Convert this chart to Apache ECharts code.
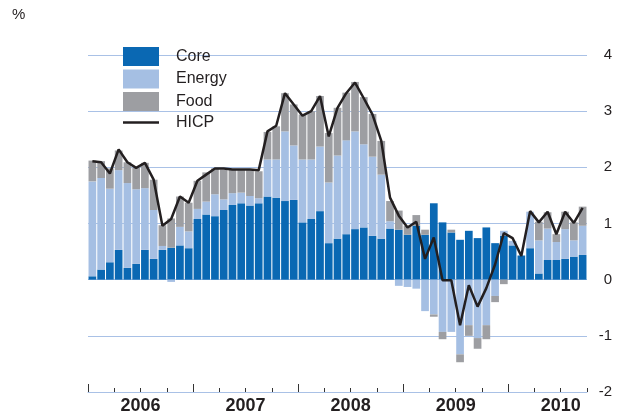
<!DOCTYPE html>
<html><head><meta charset="utf-8">
<script src="https://cdn.jsdelivr.net/npm/echarts@6/dist/echarts.min.js"></script>
<style>html,body{margin:0;padding:0;background:#fff}#c{width:623px;height:415px}</style>
</head><body><div id="c"></div>
<script>
const categories = [
'2006-01','2006-02','2006-03','2006-04','2006-05','2006-06','2006-07','2006-08','2006-09','2006-10','2006-11','2006-12',
'2007-01','2007-02','2007-03','2007-04','2007-05','2007-06','2007-07','2007-08','2007-09','2007-10','2007-11','2007-12',
'2008-01','2008-02','2008-03','2008-04','2008-05','2008-06','2008-07','2008-08','2008-09','2008-10','2008-11','2008-12',
'2009-01','2009-02','2009-03','2009-04','2009-05','2009-06','2009-07','2009-08','2009-09','2009-10','2009-11','2009-12',
'2010-01','2010-02','2010-03','2010-04','2010-05','2010-06','2010-07','2010-08','2010-09'];
const yearLabels = ['2006','2007','2008','2009','2010'];
const core = [0.06,0.18,0.31,0.53,0.21,0.28,0.53,0.37,0.53,0.57,0.61,0.56,
1.08,1.16,1.13,1.24,1.33,1.36,1.32,1.36,1.48,1.46,1.40,1.42,
1.02,1.08,1.22,0.65,0.73,0.81,0.90,0.93,0.78,0.73,0.91,0.89,
0.80,0.96,0.80,1.36,1.02,0.84,0.71,0.87,0.74,0.93,0.65,0.78,
0.61,0.43,0.56,0.11,0.35,0.35,0.37,0.41,0.44];
const energy = [1.69,1.63,1.31,1.42,1.51,1.33,1.10,0.87,0.07,-0.04,0.33,0.30,
0.18,0.23,0.39,0.19,0.21,0.19,0.17,0.09,0.66,0.68,1.24,0.97,
1.12,1.06,1.15,1.08,1.48,1.67,1.74,1.48,1.41,1.14,0.13,-0.11,
-0.13,-0.16,-0.56,-0.62,-0.93,-0.93,-1.33,-0.81,-1.04,-0.81,-0.29,0.09,
0.08,0.0,0.65,0.59,0.56,0.32,0.53,0.29,0.52];
const food = [0.37,0.30,0.36,0.35,0.37,0.38,0.45,0.54,0.37,0.52,0.54,0.51,
0.50,0.52,0.46,0.53,0.42,0.40,0.46,0.48,0.49,0.59,0.68,0.73,
0.80,0.86,0.90,0.88,0.85,0.85,0.88,0.84,0.76,0.60,0.36,0.34,
0.16,0.19,0.09,-0.04,-0.13,0.05,-0.14,-0.19,-0.19,-0.25,-0.11,-0.08,
0.0,0.0,0.0,0.33,0.29,0.14,0.31,0.32,0.34];
const hicp = [2.11,2.09,1.89,2.32,2.09,1.99,2.08,1.78,0.96,1.08,1.48,1.37,
1.76,1.87,1.98,1.98,1.96,1.96,1.96,1.95,2.64,2.74,3.32,3.12,
2.92,3.00,3.27,2.55,3.06,3.32,3.51,3.23,2.94,2.47,1.46,1.14,
0.93,1.03,0.37,0.75,-0.01,-0.01,-0.81,-0.10,-0.48,-0.15,0.27,0.83,
0.74,0.42,1.22,1.02,1.21,0.81,1.21,1.01,1.28];

const n = categories.length;
const monthOf = c => +c.slice(5);
const yearStarts = categories.map((c,i)=> monthOf(c)===1 ? i : -1).filter(i=>i>=0);
const quarterStarts = categories.map((c,i)=> (monthOf(c)%3===1 && monthOf(c)!==1) ? i : -1).filter(i=>i>=0).concat([n]);
const yearMids = yearStarts.map(i=>i+6);

const FONT = "'Liberation Sans', Arial, Helvetica, sans-serif";
const TXT = '#231f20';
const GRIDC = '#a9c1e6';
const chart = echarts.init(document.getElementById('c'), null, {renderer:'canvas'});
chart.setOption({
  animation:false,
  backgroundColor:'#fff',
  textStyle:{fontFamily:FONT},
  title:{text:'%', left:12, top:7, padding:0, textStyle:{fontSize:15, fontWeight:'normal', color:TXT, fontFamily:FONT}},
  legend:{
    orient:'vertical', left:123, top:47, padding:0,
    itemWidth:36, itemHeight:19, itemGap:3.5,
    textStyle:{fontSize:16, color:TXT, fontFamily:FONT, padding:[0,0,0,12]},
    data:[{name:'Core',icon:'rect'},{name:'Energy',icon:'rect'},{name:'Food',icon:'rect'},
          {name:'HICP',icon:'path://M0,0H36V2.5H0Z', itemStyle:{color:TXT}}]
  },
  grid:{left:88, right:36, top:55, bottom:21, containLabel:false},
  xAxis:[
    {type:'category', data:categories, show:false, boundaryGap:true},
    {type:'value', min:0, max:n, position:'bottom', splitLine:{show:false},
     axisLine:{show:true, lineStyle:{color:GRIDC, width:1}},
     axisTick:{show:true, inside:true, length:8, customValues:yearStarts, lineStyle:{color:'#333', width:1}},
     axisLabel:{show:true, customValues:yearMids, margin:5, fontSize:18, fontWeight:'bold', color:TXT, fontFamily:FONT,
       formatter:v=>yearLabels[yearMids.indexOf(v)] || ''}},
    {type:'value', min:0, max:n, position:'bottom', splitLine:{show:false},
     axisLine:{show:false},
     axisTick:{show:true, inside:true, length:4, customValues:quarterStarts, lineStyle:{color:'#333', width:1}},
     axisLabel:{show:false}}
  ],
  yAxis:{type:'value', position:'right', min:-2, max:4, interval:1,
    axisLine:{show:false}, axisTick:{show:false},
    splitLine:{show:true, lineStyle:{color:GRIDC, width:1}},
    axisLabel:{fontSize:15, color:TXT, align:'right', margin:25, fontFamily:FONT}},
  series:[
    {name:'Core', type:'bar', stack:'t', data:core, xAxisIndex:0, barCategoryGap:'12%', itemStyle:{color:'#0a68b3'}},
    {name:'Energy', type:'bar', stack:'t', data:energy, xAxisIndex:0, itemStyle:{color:'#a5bfe3'}},
    {name:'Food', type:'bar', stack:'t', data:food, xAxisIndex:0, itemStyle:{color:'#9d9ea2'}},
    {name:'HICP', type:'line', data:hicp, xAxisIndex:0, symbol:'none', showSymbol:false, z:5,
     lineStyle:{color:TXT, width:2.5}, itemStyle:{color:TXT}}
  ]
});
</script></body></html>
